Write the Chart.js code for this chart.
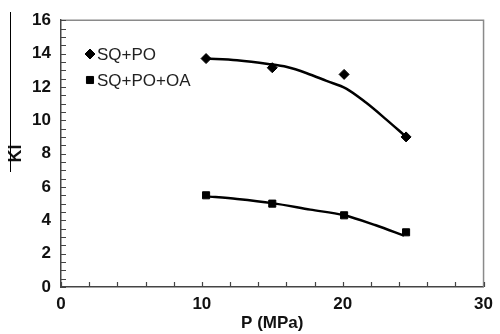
<!DOCTYPE html>
<html>
<head>
<meta charset="utf-8">
<script src="https://cdn.jsdelivr.net/npm/chart.js@4/dist/chart.umd.min.js"></script>
<style>
  html, body { margin: 0; padding: 0; background: #fff; }
  #wrap { position: relative; width: 500px; height: 334px; }
  #vline { position: absolute; left: 10px; top: 12px; width: 1px; height: 160px; background: #000; }
</style>
</head>
<body>
<div id="wrap">
  <canvas id="c" width="500" height="334"></canvas>
  <div id="vline"></div>
</div>
<script>
// ---- data ----
const seriesNames = ['SQ+PO', 'SQ+PO+OA'];
const pressure = [10.3, 15.0, 20.1, 24.5];
const kiSQPO = [13.7, 13.15, 12.75, 9.0];
const kiSQPOOA = [5.5, 5.0, 4.3, 3.28];
// trend curves
const trendP1 = [10.25, 12.5, 14.7, 16.05, 17.45, 18.85, 20.25, 21.65, 23.06, 24.4];
const trendK1 = [13.7, 13.6, 13.38, 13.19, 12.82, 12.36, 11.9, 11.06, 10.07, 9.08];
const trendP2 = [10.2, 12.5, 15.0, 17.7, 20.1, 22.35, 24.35];
const trendK2 = [5.45, 5.28, 5.03, 4.64, 4.30, 3.70, 3.08];
const xTicks = [0, 10, 20, 30];
const yTicks = [0, 2, 4, 6, 8, 10, 12, 14, 16];

const pts = (xs, ys) => xs.map((x, i) => ({x: x, y: ys[i]}));
const FONT = "'Liberation Sans', Arial, sans-serif";

const framePlugin = {
  id: 'frame',
  beforeDatasetsDraw(chart) {
    const {ctx, chartArea: a, scales} = chart;
    ctx.save();
    ctx.strokeStyle = '#8a8a8a';
    ctx.lineWidth = 1.5;
    ctx.beginPath();
    ctx.moveTo(a.left, a.top); ctx.lineTo(a.right, a.top); ctx.lineTo(a.right, a.bottom);
    ctx.stroke();
    ctx.strokeStyle = '#444';
    ctx.lineWidth = 1.2;
    ctx.beginPath();
    for (let v = 0; v <= 16.001; v += 0.5) {
      const y = Math.round(scales.y.getPixelForValue(v)) + 0.5;
      ctx.moveTo(a.left, y); ctx.lineTo(a.left + 5, y);
    }
    for (let v = 0; v <= 30.001; v += 2) {
      const x = Math.round(scales.x.getPixelForValue(v)) + 0.5;
      ctx.moveTo(x, a.bottom); ctx.lineTo(x, a.bottom - 5);
    }
    ctx.stroke();
    ctx.restore();
  },
  afterDraw(chart) {
    const {ctx} = chart;
    ctx.save();
    const items = [
      {style: 'rectRot', r: 5, label: seriesNames[0], y: 54},
      {style: 'rect', r: 5, label: seriesNames[1], y: 80}
    ];
    ctx.font = '17px ' + FONT;
    ctx.textBaseline = 'middle';
    items.forEach(it => {
      ctx.fillStyle = '#000';
      ctx.strokeStyle = '#000';
      ctx.lineWidth = 1;
      Chart.helpers.drawPoint(ctx, {pointStyle: it.style, radius: it.r, borderWidth: 1}, 90, it.y);
      ctx.fillStyle = '#222';
      ctx.fillText(it.label, 97, it.y + 1);
    });
    ctx.restore();
  }
};

new Chart(document.getElementById('c'), {
  type: 'scatter',
  data: {
    datasets: [
      {label: seriesNames[0] + ' trend', data: pts(trendP1, trendK1), showLine: true, borderColor: '#000', borderWidth: 2.5, pointRadius: 0, cubicInterpolationMode: 'monotone', fill: false},
      {label: seriesNames[1] + ' trend', data: pts(trendP2, trendK2), showLine: true, borderColor: '#000', borderWidth: 2.5, pointRadius: 0, cubicInterpolationMode: 'monotone', fill: false},
      {label: seriesNames[0], data: pts(pressure, kiSQPO), pointStyle: 'rectRot', pointRadius: 5, backgroundColor: '#000', borderColor: '#000', borderWidth: 1},
      {label: seriesNames[1], data: pts(pressure, kiSQPOOA), pointStyle: 'rect', pointRadius: 5, backgroundColor: '#000', borderColor: '#000', borderWidth: 1}
    ]
  },
  options: {
    responsive: false,
    animation: false,
    devicePixelRatio: 1,
    layout: {padding: {left: 0, top: 19, right: 11, bottom: 0}},
    plugins: {legend: {display: false}, tooltip: {enabled: false}},
    scales: {
      x: {
        type: 'linear', min: 0, max: 30,
        afterBuildTicks: s => { s.ticks = xTicks.map(v => ({value: v})); },
        afterFit: s => { s.height = 47; },
        grid: {display: false, drawTicks: false},
        border: {display: true, color: '#444', width: 1.5},
        ticks: {color: '#111', font: {family: FONT, size: 17, weight: 'bold'}, padding: 7, maxRotation: 0},
        title: {display: true, text: 'P (MPa)', color: '#111', font: {family: FONT, size: 17, weight: 'bold'}, padding: {top: 0, bottom: 0}}
      },
      y: {
        type: 'linear', min: 0, max: 16,
        afterBuildTicks: s => { s.ticks = yTicks.map(v => ({value: v})); },
        afterFit: s => { s.width = 61; },
        grid: {display: false, drawTicks: false},
        border: {display: true, color: '#444', width: 1.5},
        ticks: {color: '#111', font: {family: FONT, size: 17, weight: 'bold'}, padding: 10},
        title: {display: true, text: 'Ki', color: '#111', font: {family: FONT, size: 18, weight: 'bold'}, padding: {top: 5, bottom: 0}}
      }
    }
  },
  plugins: [framePlugin]
});
</script>
</body>
</html>
